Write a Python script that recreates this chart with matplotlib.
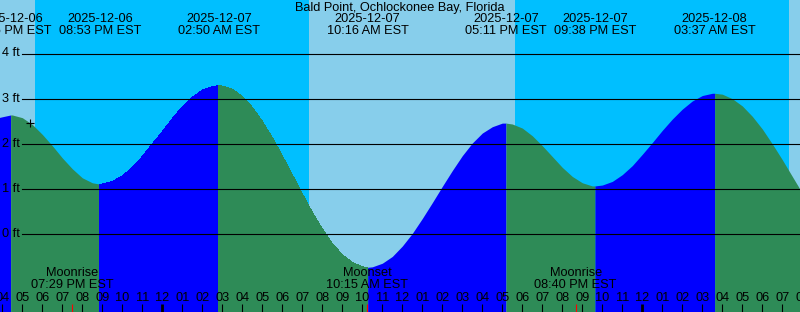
import numpy as np
import pandas as pd

import matplotlib
matplotlib.use("Agg")
import matplotlib.pyplot as plt

STATION = "Bald Point, Ochlockonee Bay, Florida"

# tide extremes (EST) and heights in ft
extreme_times = ["2025-12-06 16:25", "2025-12-06 20:53", "2025-12-07 02:50",
                 "2025-12-07 10:16", "2025-12-07 17:11", "2025-12-07 21:38",
                 "2025-12-08 03:37"]
extreme_levels = [2.64, 1.11, 3.29, -0.73, 2.46, 1.07, 3.12]

# water level read every half hour, 2025-12-06 15:00 .. 2025-12-08 08:00
curve_start = "2025-12-06 15:00"
curve_levels = [2.45, 2.55, 2.60, 2.64, 2.58, 2.43, 2.21, 1.96, 1.69, 1.45,
                1.25, 1.14, 1.11, 1.17, 1.29, 1.48, 1.72, 2.00, 2.27, 2.56,
                2.82, 3.03, 3.19, 3.27, 3.28, 3.21, 3.05, 2.81, 2.50, 2.14,
                1.74, 1.32, 0.90, 0.49, 0.12, -0.20, -0.45, -0.62, -0.72, -0.72,
                -0.64, -0.49, -0.26, 0.02, 0.35, 0.70, 1.06, 1.41, 1.74, 2.02,
                2.24, 2.38, 2.46, 2.44, 2.35, 2.18, 1.96, 1.72, 1.48, 1.28,
                1.14, 1.07, 1.09, 1.17, 1.32, 1.52, 1.77, 2.03, 2.30, 2.55,
                2.77, 2.95, 3.07, 3.12, 3.10, 3.00, 2.84, 2.61, 2.33, 2.00,
                1.65, 1.28, 0.91]

# day / night
sunsets = ["2025-12-06 17:38", "2025-12-07 17:38"]
sunrises = ["2025-12-07 07:20", "2025-12-08 07:20"]

# moon events
moon_events = ["Moonrise", "Moonset", "Moonrise"]
moon_times = ["2025-12-06 19:29", "2025-12-07 10:15", "2025-12-07 20:40"]

# current-time marker
now_time = "2025-12-06 17:23"
now_level = 2.46

ft_levels = [0, 1, 2, 3, 4]

ORIGIN = pd.Timestamp("2025-12-07 00:00")
W, H = 800, 312
PX_PER_HOUR = 20.0
X0_PX = 162.3        # pixel of the origin
PX_PER_FT = 45.2
Y0_PX = 234.3        # pixel of 0 ft

NIGHT = "#00BFFF"
DAY = "#87CEEB"
RISE = "#0000FF"
FALL = "#2E8B57"


def hours(ts):
    return (pd.to_datetime(pd.Series(ts)) - ORIGIN) / pd.Timedelta(hours=1)


def main():
    plt.rcParams["font.family"] = ["Liberation Sans", "DejaVu Sans"]
    fs = 9.2

    fig = plt.figure(figsize=(W / 100, H / 100), dpi=100)
    ax = fig.add_axes([0, 0, 1, 1])
    ax.set_axis_off()
    x_lo, x_hi = -X0_PX / PX_PER_HOUR, (W - X0_PX) / PX_PER_HOUR
    y_lo, y_hi = (Y0_PX - H) / PX_PER_FT, Y0_PX / PX_PER_FT
    ax.set_xlim(x_lo, x_hi)
    ax.set_ylim(y_lo, y_hi)

    # background: day light blue, night deep sky blue
    ax.axvspan(x_lo, x_hi, color=NIGHT, lw=0, zorder=0)
    ss = hours(sunsets).to_numpy()
    sr = hours(sunrises).to_numpy()
    day_starts = np.concatenate([[x_lo - 1], sr])
    day_ends = np.concatenate([ss, [x_hi + 1]])
    for a, b in zip(day_starts, day_ends):
        ax.axvspan(a, b, color=DAY, lw=0, zorder=0.5)

    # tide curve: half-hourly readings + extremes, coloured rising / falling
    t_hr = hours(pd.date_range(curve_start, periods=len(curve_levels),
                               freq="30min")).to_numpy()
    t_ex = hours(extreme_times).to_numpy()
    t = np.concatenate([t_hr, t_ex])
    lev = np.concatenate([curve_levels, extreme_levels])
    order = np.argsort(t)
    t, lev = t[order], lev[order]

    bounds = np.concatenate([[t[0]], t_ex, [t[-1]]])
    ex_lv = list(extreme_levels)
    for i in range(len(bounds) - 1):
        m = (t >= bounds[i]) & (t <= bounds[i + 1])
        if i == 0:
            rising = True
        elif i == len(bounds) - 2:
            rising = False
        else:
            rising = ex_lv[i] > ex_lv[i - 1]
        ax.fill_between(t[m], y_lo - 2, lev[m], color=RISE if rising else FALL,
                        lw=0, antialiased=False, zorder=1)

    # height lines
    ytr = ax.get_yaxis_transform()
    for f in ft_levels:
        ax.axhline(f, xmin=22 / W, xmax=1, color="black", lw=0.8, zorder=2)
        ax.text(2 / W, f, f"{f} ft", transform=ytr, ha="left", va="center",
                fontsize=fs, zorder=3)

    # top labels
    ax.text(0.5, 1 - 7.5 / H, STATION, transform=ax.transAxes, ha="center",
            va="center", fontsize=fs, zorder=3)
    xtr = ax.get_xaxis_transform()
    for ts, x in zip(pd.to_datetime(extreme_times), t_ex):
        ax.text(x, 1 - 19.5 / H, ts.strftime("%Y-%m-%d"), transform=xtr,
                ha="center", va="center", fontsize=fs, zorder=3)
        ax.text(x, 1 - 31.3 / H, ts.strftime("%I:%M %p EST"), transform=xtr,
                ha="center", va="center", fontsize=fs, zorder=3)

    # hour ticks and labels along the bottom
    tick_times = pd.date_range("2025-12-06 16:00", "2025-12-08 08:00", freq="h")
    tick_x = hours(tick_times).to_numpy()
    for ts, x in zip(tick_times, tick_x):
        lw = 2.0 if ts.hour == 0 else 0.8
        ax.plot([x, x], [0, 8 / H], transform=xtr, color="black", lw=lw,
                solid_capstyle="butt", zorder=3)
        ax.text(x, 14 / H, ts.strftime("%I"), transform=xtr, ha="center",
                va="center", fontsize=fs, zorder=3)

    # moon events
    for name, ts, x in zip(moon_events, pd.to_datetime(moon_times),
                           hours(moon_times).to_numpy()):
        ax.plot([x, x], [0, 8 / H], transform=xtr, color="red", lw=0.8,
                solid_capstyle="butt", zorder=3.5)
        ax.text(x, 38.5 / H, name, transform=xtr, ha="center", va="center",
                fontsize=fs, zorder=3)
        ax.text(x, 26.5 / H, ts.strftime("%I:%M %p EST"), transform=xtr,
                ha="center", va="center", fontsize=fs, zorder=3)

    # now marker
    ax.plot(hours([now_time]).to_numpy(), [now_level], marker="+",
            color="black", ms=6, mew=0.8, zorder=4)

    fig.savefig("out.png", dpi=100)


if __name__ == "__main__":
    main()
